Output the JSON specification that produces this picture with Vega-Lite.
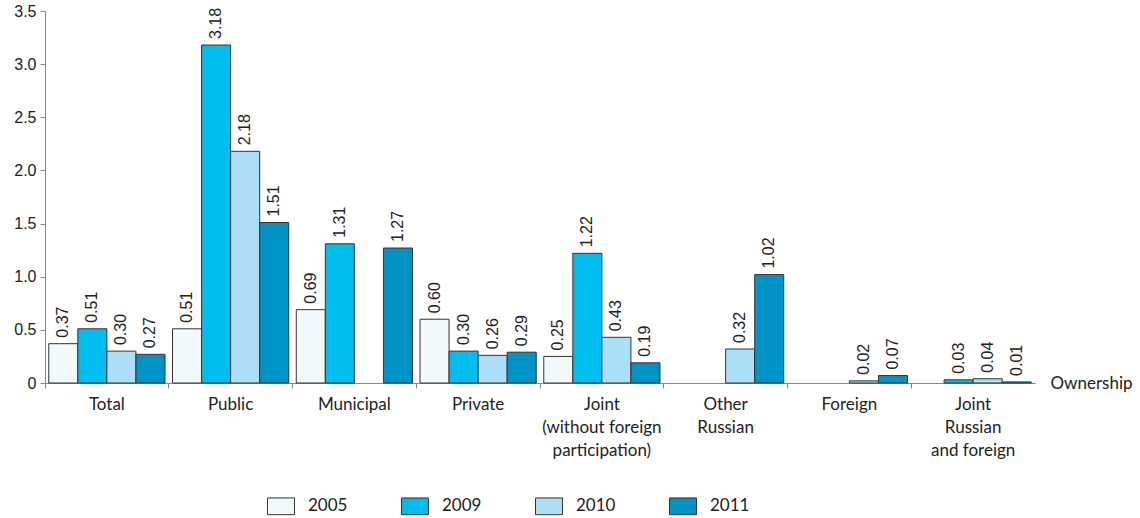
{
  "$schema": "https://vega.github.io/schema/vega-lite/v6.json",
  "autosize": {"type": "none"},
  "padding": {"left": 45, "top": 11, "right": 105, "bottom": 135},
  "width": 990,
  "height": 372,
  "background": "white",
  "config": {
    "view": {"stroke": null},
    "font": "Liberation Sans"
  },
  "data": {
    "values": [
      {"group": "Total", "year": "2005", "value": 0.37},
      {"group": "Total", "year": "2009", "value": 0.51},
      {"group": "Total", "year": "2010", "value": 0.30},
      {"group": "Total", "year": "2011", "value": 0.27},
      {"group": "Public", "year": "2005", "value": 0.51},
      {"group": "Public", "year": "2009", "value": 3.18},
      {"group": "Public", "year": "2010", "value": 2.18},
      {"group": "Public", "year": "2011", "value": 1.51},
      {"group": "Municipal", "year": "2005", "value": 0.69},
      {"group": "Municipal", "year": "2009", "value": 1.31},
      {"group": "Municipal", "year": "2011", "value": 1.27},
      {"group": "Private", "year": "2005", "value": 0.60},
      {"group": "Private", "year": "2009", "value": 0.30},
      {"group": "Private", "year": "2010", "value": 0.26},
      {"group": "Private", "year": "2011", "value": 0.29},
      {"group": "Joint|(without foreign|participation)", "year": "2005", "value": 0.25},
      {"group": "Joint|(without foreign|participation)", "year": "2009", "value": 1.22},
      {"group": "Joint|(without foreign|participation)", "year": "2010", "value": 0.43},
      {"group": "Joint|(without foreign|participation)", "year": "2011", "value": 0.19},
      {"group": "Other|Russian", "year": "2010", "value": 0.32},
      {"group": "Other|Russian", "year": "2011", "value": 1.02},
      {"group": "Foreign", "year": "2010", "value": 0.02},
      {"group": "Foreign", "year": "2011", "value": 0.07},
      {"group": "Joint|Russian|and foreign", "year": "2009", "value": 0.03},
      {"group": "Joint|Russian|and foreign", "year": "2010", "value": 0.04},
      {"group": "Joint|Russian|and foreign", "year": "2011", "value": 0.01}
    ]
  },
  "encoding": {
    "x": {
      "field": "group",
      "type": "nominal",
      "sort": null,
      "scale": {"paddingInner": 0, "paddingOuter": 0},
      "axis": {
        "title": "Ownership",
        "titleFont": "Lato",
        "titleFontSize": 17,
        "titleFontWeight": "normal",
        "titleColor": "#222",
        "titleAnchor": null,
        "titleX": 1005,
        "titleY": 0,
        "titleAlign": "left",
        "titleBaseline": "middle",
        "labelAngle": 0,
        "labelExpr": "split(datum.value, '|')",
        "labelFont": "Lato",
        "labelFontSize": 17,
        "labelColor": "#222",
        "labelLineHeight": 23,
        "labelPadding": 8,
        "labelBaseline": "top",
        "bandPosition": 0,
        "domainColor": "#888",
        "tickColor": "#888",
        "tickSize": 5,
        "grid": false
      }
    },
    "xOffset": {
      "field": "year",
      "type": "nominal",
      "scale": {"domain": ["2005", "2009", "2010", "2011"], "paddingInner": 0, "paddingOuter": 0.13}
    },
    "y": {
      "field": "value",
      "type": "quantitative",
      "scale": {"domain": [0, 3.5], "nice": false},
      "axis": {
        "title": null,
        "values": [0, 0.5, 1, 1.5, 2, 2.5, 3, 3.5],
        "labelExpr": "datum.value == 0 ? '0' : format(datum.value, '.1f')",
        "labelFont": "Liberation Sans",
        "labelFontSize": 16,
        "labelColor": "#222",
        "labelPadding": 4,
        "grid": false,
        "domainColor": "#888",
        "tickColor": "#888",
        "tickSize": 5
      }
    }
  },
  "layer": [
    {
      "mark": {"type": "bar", "stroke": "#333", "strokeWidth": 1},
      "encoding": {
        "fill": {
          "field": "year",
          "type": "nominal",
          "scale": {
            "domain": ["2005", "2009", "2010", "2011"],
            "range": ["#f1f9fd", "#00bcef", "#abdff7", "#0093c6"]
          },
          "legend": {
            "title": null,
            "orient": "none",
            "direction": "horizontal",
            "legendX": 222,
            "legendY": 481,
            "symbolType": "M-1,-0.62H1V0.62H-1Z",
            "symbolSize": 729,
            "symbolStrokeColor": "#333",
            "symbolStrokeWidth": 1,
            "symbolOpacity": 1,
            "labelFont": "Lato",
            "labelFontSize": 17,
            "labelColor": "#222",
            "labelOffset": 13,
            "columnPadding": 51
          }
        }
      }
    },
    {
      "mark": {
        "type": "text",
        "angle": 270,
        "align": "left",
        "baseline": "middle",
        "dx": 6,
        "font": "Liberation Sans",
        "fontSize": 16,
        "color": "#222"
      },
      "encoding": {
        "text": {"field": "value", "type": "quantitative", "format": ".2f"}
      }
    }
  ]
}
